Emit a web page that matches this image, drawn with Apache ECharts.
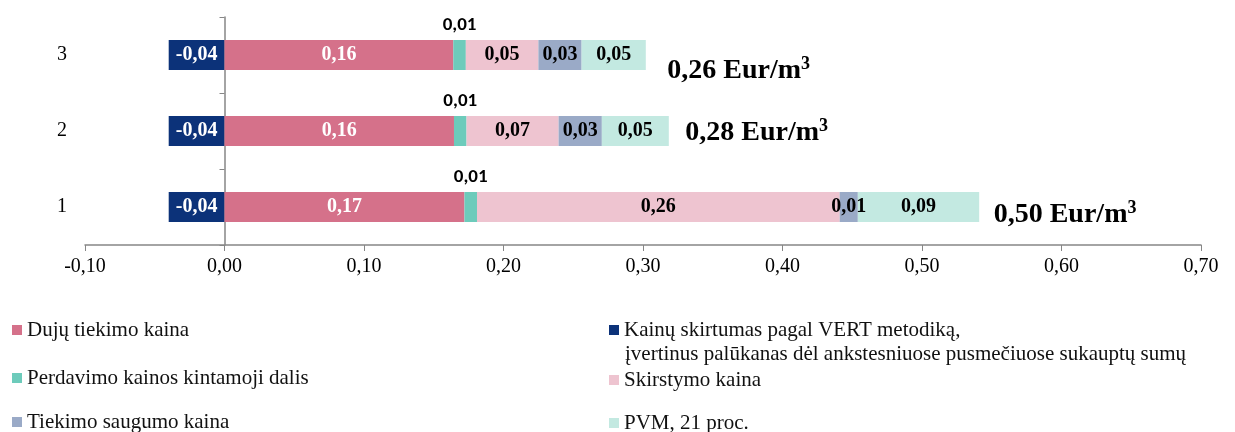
<!DOCTYPE html>
<html lang="lt">
<head>
    <meta charset="UTF-8">
    <title>Kainos sudedamosios dalys</title>
    <script src="https://cdn.jsdelivr.net/npm/echarts@6/dist/echarts.min.js"></script>
    <style>
        html, body { margin: 0; padding: 0; background: #fff; }
        #chart { width: 1235px; height: 432px; }
    </style>
</head>
<body>
    <div id="chart"></div>
<script>
    // eilutes (apacioje 1, virsuje 3)
    var categories = ['1', '2', '3'];
    var xTicks = { min: -0.1, max: 0.7, step: 0.1 };

    // sudedamosios dalys, Eur/m3
    var kainuSkirtumas = [-0.04, -0.04, -0.04];
    var dujuTiekimas = [0.172, 0.1645, 0.164];
    var perdavimas = [0.009, 0.009, 0.009];
    var skirstymas = [0.26, 0.066, 0.052];
    var saugumas = [0.013, 0.031, 0.031];
    var pvm = [0.087, 0.048, 0.046];

    var names = [
        'Dujų tiekimo kaina',
        'Kainų skirtumas pagal VERT metodiką,',
        'Perdavimo kainos kintamoji dalis',
        'Skirstymo kaina',
        'Tiekimo saugumo kaina',
        'PVM, 21 proc.'
    ];
    var antraEilute = 'įvertinus palūkanas dėl ankstesniuose pusmečiuose sukauptų sumų';

    var serif = "'Times New Roman', 'Liberation Serif', serif";
    var sans = "Calibri, 'Open Sans', sans-serif";

    function fmt(v) {
        return v.toFixed(2).replace('.', ',');
    }

    // sumos ir teigiamos dalies galas (etiketei)
    var totals = [], posEnd = [];
    for (var i = 0; i < categories.length; i++) {
        var pos = dujuTiekimas[i] + perdavimas[i] + skirstymas[i] + saugumas[i] + pvm[i];
        posEnd.push(pos);
        totals.push(pos + kainuSkirtumas[i]);
    }
    var totalOffsets = [[14, 8], [16, 2], [21, 16]];

    function barSeries(name, data, color, textColor) {
        return {
            name: name,
            type: 'bar',
            stack: 'k',
            barWidth: 30,
            yAxisIndex: 0,
            itemStyle: { color: color },
            label: {
                show: true,
                position: 'inside',
                color: textColor,
                fontFamily: serif,
                fontWeight: 'bold',
                fontSize: 20,
                formatter: function (p) { return fmt(p.value); }
            },
            data: data
        };
    }

    var series = [
        barSeries(names[1], kainuSkirtumas, '#0c3279', '#fff'),
        barSeries(names[0], dujuTiekimas, '#d5718a', '#fff'),
        barSeries(names[2], perdavimas, '#6dcbbb', '#000'),
        barSeries(names[3], skirstymas, '#eec4d0', '#000'),
        barSeries(names[4], saugumas, '#9aaac7', '#000'),
        barSeries(names[5], pvm, '#c3e9e1', '#000')
    ];
    // perdavimo etikete virs stulpelio
    series[2].label.position = 'top';
    series[2].label.distance = 5;
    series[2].label.fontFamily = sans;
    series[2].label.fontSize = 19;

    // sumos etiketes
    series.push({
        type: 'scatter',
        yAxisIndex: 0,
        symbolSize: 1,
        itemStyle: { color: 'rgba(0,0,0,0)', opacity: 1 },
        silent: true,
        data: posEnd.map(function (v, i) {
            return {
                value: [v, i],
                label: { offset: totalOffsets[i] }
            };
        }),
        label: {
            show: true,
            position: 'right',
            distance: 0,
            color: '#000',
            textBorderWidth: 0,
            formatter: function (p) {
                return '{a|' + fmt(totals[p.dataIndex]) + ' Eur/m}{s|3}';
            },
            rich: {
                a: { fontFamily: serif, fontWeight: 'bold', fontSize: 28, color: '#000', lineHeight: 32 },
                s: { fontFamily: serif, fontWeight: 'bold', fontSize: 18, color: '#000', verticalAlign: 'top' }
            }
        }
    });

    // legendos: po viena kiekvienam irasui
    var legendPos = [
        { n: names[0], left: 12, top: 318 },
        { n: names[2], left: 12, top: 366 },
        { n: names[4], left: 12, top: 410 },
        { n: names[1], left: 609, top: 318 },
        { n: names[3], left: 609, top: 368 },
        { n: names[5], left: 609, top: 411 }
    ];
    var legends = legendPos.map(function (l) {
        return {
            data: [l.n],
            left: l.left,
            top: l.top,
            padding: 0,
            icon: 'rect',
            itemWidth: 10,
            itemHeight: 10,
            selectedMode: false,
            textStyle: { fontFamily: serif, fontSize: 21, color: '#111', lineHeight: 24, padding: [0, 0, 0, 0] }
        };
    });

    var chart = echarts.init(document.getElementById('chart'));
    chart.setOption({
        animation: false,
        grid: { left: 85, right: 34, top: 17, bottom: 187 },
        legend: legends,
        graphic: [{
            type: 'text',
            left: 625,
            top: 344,
            style: { text: antraEilute, font: '21px ' + serif, fill: '#111' }
        }],
        xAxis: {
            type: 'value',
            min: xTicks.min,
            max: xTicks.max,
            interval: xTicks.step,
            splitLine: { show: false },
            axisLine: { show: true, lineStyle: { color: '#868686', width: 1.5 } },
            axisTick: { show: true, length: 6, lineStyle: { color: '#868686' } },
            axisLabel: {
                margin: 12,
                color: '#000',
                fontFamily: serif,
                fontSize: 20,
                formatter: function (v) { return fmt(v); }
            }
        },
        yAxis: [{
            type: 'category',
            data: categories,
            axisLine: { show: true, onZero: true, lineStyle: { color: '#868686', width: 1.5 } },
            axisTick: { show: true, length: 5, lineStyle: { color: '#868686' } },
            axisLabel: { show: false },
            splitLine: { show: false }
        }, {
            type: 'category',
            data: categories,
            position: 'left',
            axisLine: { show: false, onZero: false },
            axisTick: { show: false },
            splitLine: { show: false },
            axisLabel: { margin: 18, color: '#000', fontFamily: serif, fontSize: 20 }
        }],
        series: series
    });
</script>
</body>
</html>
